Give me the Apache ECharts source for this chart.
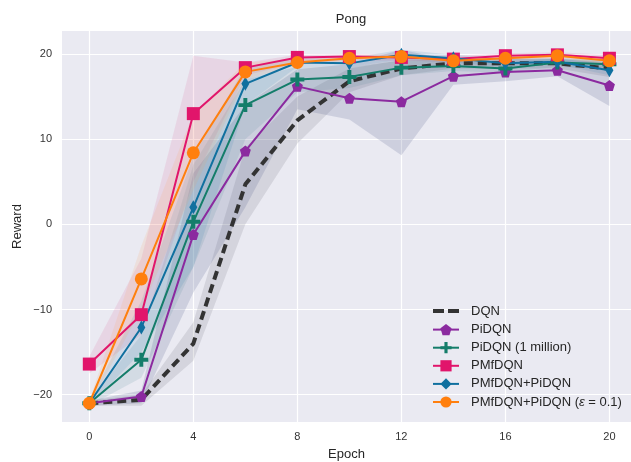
<!DOCTYPE html>
<html>
<head>
<meta charset="utf-8">
<script src="https://cdn.jsdelivr.net/npm/echarts@6/dist/echarts.min.js"></script>
<style>
  html, body { margin: 0; padding: 0; background: #fff; }
  #chart { width: 631px; height: 462px; }
</style>
</head>
<body>
<div id="chart"></div>
<script>
// epochs and values
const epochs = [0, 2, 4, 6, 8, 10, 12, 14, 16, 18, 20];
const xTicks = [0, 4, 8, 12, 16, 20];
const yTicks = [-20, -10, 0, 10, 20];

const dqn = [-21, -20.6, -14, 4.7, 12.2, 16.8, 18.3, 18.9, 18.9, 18.9, 18.3];
const pidqn = [-21, -20.2, -1.2, 8.6, 16.2, 14.8, 14.4, 17.4, 17.9, 18.1, 16.3];
const pidqn1m = [-21, -15.9, 0.3, 14.0, 17.0, 17.3, 18.4, 18.6, 18.3, 19.0, 18.8];
const pmfdqn = [-16.4, -10.6, 13.0, 18.4, 19.6, 19.7, 19.6, 19.4, 19.8, 19.9, 19.5];
const pmfPi = [-21, -12.1, 2.0, 16.5, 19.0, 18.9, 19.9, 19.5, 18.9, 19.1, 18.1];
const pmfPiEps = [-21, -6.4, 8.4, 17.9, 19.0, 19.5, 19.7, 19.2, 19.5, 19.8, 19.2];

// shaded spread (low / high)
const dqnLo = [-21.3, -21.3, -16, 0, 9.5, 15.5, 17.5, 18.3, 18.3, 18.3, 17.3];
const dqnHi = [-20.7, -20.0, -11.5, 9, 15, 18.3, 19.3, 19.5, 19.5, 19.5, 19.2];
const pidqnLo = [-21.3, -21, -8, 2, 13.5, 12.3, 8.1, 16.4, 16.8, 17.4, 13.9];
const pidqnHi = [-20.7, -19.5, 6, 14, 18.2, 18.8, 20.5, 19.2, 19.4, 19.4, 19];
const pidqn1mLo = [-21.3, -18, -5, 10, 15.5, 16, 17.5, 18, 17.8, 18.5, 18.2];
const pidqn1mHi = [-20.7, -13, 7, 17, 18.5, 18.5, 19.2, 19.2, 19, 19.5, 19.4];
const pmfdqnLo = [-17.5, -13, 5, 17.5, 18.9, 19.2, 19.2, 19.1, 19.5, 19.6, 19.2];
const pmfdqnHi = [-15.5, -4, 19.8, 19, 19.9, 20, 20, 19.8, 20.1, 20.2, 19.9];
const pmfPiLo = [-21.3, -15, -5, 14, 18.5, 18.5, 19.3, 19, 18.5, 18.8, 17.5];
const pmfPiHi = [-20.7, -9, 8, 18.5, 19.5, 19.5, 20.5, 19.9, 19.4, 19.5, 18.8];
const pmfPiEpsLo = [-21.3, -10, 4, 17, 18.7, 19.2, 19.4, 19, 19.2, 19.5, 18.8];
const pmfPiEpsHi = [-20.7, -2.5, 13, 19, 19.4, 19.8, 20, 19.5, 19.8, 20.1, 19.5];

const names = ['DQN', 'PiDQN', 'PiDQN (1 million)', 'PMfDQN', 'PMfDQN+PiDQN', 'PMfDQN+PiDQN (ε = 0.1)'];
const colors = ['#333333', '#8b2a9f', '#147d6a', '#e1156b', '#10709f', '#ff7f0e'];

const pentagon = 'path://M50,0 L97.6,34.5 L79.4,90.5 L20.6,90.5 L2.4,34.5 Z';
const plus = 'path://M36,0 H64 V36 H100 V64 H64 V100 H36 V64 H0 V36 H36 Z';
// two dashes for the DQN legend handle (tiny corner points keep the box size)
const dashIcon = 'path://M0,0 L0.01,0 L0,0.01 Z M26,14 L25.99,14 L26,13.99 Z M0,5 H11 V9 H0 Z M15,5 H26 V9 H15 Z';

const chart = echarts.init(document.getElementById('chart'));

function bandSeries(lo, hi, color, opacity) {
  return {
    type: 'custom',
    silent: true,
    z: 1,
    data: epochs.map((e, i) => [e, lo[i], hi[i]]),
    renderItem: (params, api) => {
      if (params.dataIndex !== 0) return null;
      const pts = [];
      for (let i = 0; i < epochs.length; i++) pts.push(api.coord([epochs[i], hi[i]]));
      for (let i = epochs.length - 1; i >= 0; i--) pts.push(api.coord([epochs[i], lo[i]]));
      return {
        type: 'polygon',
        shape: { points: pts },
        style: { fill: color, opacity: opacity }
      };
    }
  };
}

function lineSeries(name, vals, color, symbol, size, extra) {
  return Object.assign({
    name: name,
    type: 'line',
    z: 3,
    data: epochs.map((e, i) => [e, vals[i]]),
    symbol: symbol,
    symbolSize: size,
    showAllSymbol: true,
    itemStyle: { color: color, borderWidth: 0 },
    lineStyle: { color: color, width: 2 }
  }, extra || {});
}

const option = {
  animation: false,
  backgroundColor: '#ffffff',
  textStyle: { fontFamily: 'Liberation Sans, Arial, sans-serif' },
  title: {
    text: 'Pong',
    left: 346,
    textAlign: 'center',
    top: 8,
    textStyle: { fontSize: 13, fontWeight: 'normal', color: '#262626' }
  },
  grid: {
    left: 62, right: 0, top: 31, bottom: 40,
    outerBoundsMode: 'none',
    show: true, backgroundColor: '#eaeaf2', borderWidth: 0
  },
  legend: {
    data: [{ name: names[0], icon: dashIcon }].concat(names.slice(1)),
    orient: 'vertical',
    left: 427,
    top: 299,
    itemWidth: 26,
    itemHeight: 14,
    itemGap: 5.1,
    textStyle: {
      fontSize: 13, color: '#262626', padding: [0, 0, 0, 7],
      rich: { e: { fontStyle: 'italic', fontSize: 13, color: '#262626' } }
    },
    formatter: n => n.replace('ε', '{e|ε}')
  },
  xAxis: {
    type: 'value',
    min: -1.05,
    max: 20.83,
    name: 'Epoch',
    nameLocation: 'middle',
    nameGap: 26,
    nameTextStyle: { fontSize: 13, color: '#262626' },
    axisLine: { show: false },
    axisTick: { show: false, customValues: xTicks },
    axisLabel: { customValues: xTicks, fontSize: 11, color: '#333', margin: 9 },
    splitLine: { show: true, lineStyle: { color: '#ffffff', width: 1.2 } }
  },
  yAxis: {
    type: 'value',
    min: -23.2,
    max: 22.7,
    name: 'Reward',
    nameLocation: 'middle',
    nameGap: 38,
    nameMoveOverlap: false,
    nameTextStyle: { fontSize: 13, color: '#262626' },
    axisLine: { show: false },
    axisTick: { show: false, customValues: yTicks },
    axisLabel: {
      customValues: yTicks, fontSize: 11, color: '#333', margin: 10,
      formatter: v => String(v).replace('-', '\u2212')
    },
    splitLine: { show: true, lineStyle: { color: '#ffffff', width: 1.2 } }
  },
  series: [
    bandSeries(dqnLo, dqnHi, '#555566', 0.15),
    bandSeries(pidqnLo, pidqnHi, '#5c6490', 0.2),
    bandSeries(pidqn1mLo, pidqn1mHi, '#3c7d8c', 0.13),
    bandSeries(pmfdqnLo, pmfdqnHi, '#d8508a', 0.13),
    bandSeries(pmfPiLo, pmfPiHi, '#3a84b8', 0.15),
    bandSeries(pmfPiEpsLo, pmfPiEpsHi, '#ff9a4a', 0.13),
    lineSeries(names[0], dqn, colors[0], 'none', 0, {
      lineStyle: { color: colors[0], width: 4, type: [9, 5] }
    }),
    lineSeries(names[1], pidqn, colors[1], pentagon, 11),
    lineSeries(names[2], pidqn1m, colors[2], plus, 14),
    lineSeries(names[3], pmfdqn, colors[3], 'rect', 13),
    lineSeries(names[4], pmfPi, colors[4], 'diamond', [8, 14]),
    lineSeries(names[5], pmfPiEps, colors[5], 'circle', 13)
  ]
};

chart.setOption(option);
</script>
</body>
</html>
